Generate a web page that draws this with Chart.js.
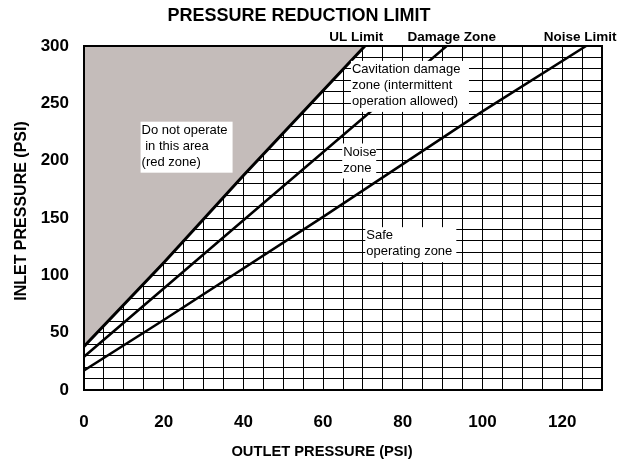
<!DOCTYPE html>
<html>
<head>
<meta charset="utf-8">
<script src="https://cdn.jsdelivr.net/npm/chart.js@4"></script>
<style>
  html, body { margin: 0; padding: 0; background: #fff; }
  #wrap { width: 626px; height: 462px; }
</style>
</head>
<body>
<div id="wrap"><canvas id="chart" width="626" height="462"></canvas></div>
<script>
// outlet (x) / inlet (y) points
const ulOutlet = [0, 20, 40, 70.5];
const ulInlet = [38, 111, 187, 300];
const damageOutlet = [0, 40, 71, 91];
const damageInlet = [29, 148, 240, 300];
const noiseOutlet = [0, 20, 60, 100, 126];
const noiseInlet = [17, 61, 151, 243, 300];

const xTickLabels = [0, 20, 40, 60, 80, 100, 120];
const yTickLabels = [0, 50, 100, 150, 200, 250, 300];

// top labels: [text, outlet value for centre]
const lineLabels = [["UL Limit", 68.3], ["Damage Zone", 92.3], ["Noise Limit", 124.5]];

// zone notes: lines, left outlet, top inlet, box width px
const notes = [
  { lines: ["Do not operate", " in this area", "(red zone)"], x: 14.2, y: 234, w: 92 },
  { lines: ["Cavitation damage", "zone (intermittent", "operation allowed)"], x: 67, y: 287, w: 118 },
  { lines: ["Noise", "zone"], x: 64.8, y: 215, w: 34 },
  { lines: ["Safe", "operating zone"], x: 70.6, y: 142, w: 91 }
];

function pts(xs, ys) {
  return xs.map((x, i) => ({ x: x, y: ys[i] }));
}

const FONT = "'Liberation Sans', Arial, sans-serif";

const decorations = {
  id: "decorations",
  afterDatasetsDraw(chart) {
    const ctx = chart.ctx;
    const xs = chart.scales.x, ys = chart.scales.y;
    const a = chart.chartArea;
    ctx.save();

    // plot frame
    ctx.strokeStyle = "#000";
    ctx.lineWidth = 2;
    ctx.strokeRect(a.left, a.top, a.right - a.left, a.bottom - a.top);

    // zone notes
    ctx.font = "13px " + FONT;
    ctx.textBaseline = "top";
    ctx.textAlign = "left";
    notes.forEach(n => {
      const left = xs.getPixelForValue(n.x);
      const top = ys.getPixelForValue(n.y);
      const h = n.lines.length * 16 + 3;
      ctx.fillStyle = "#fff";
      ctx.fillRect(left, top, n.w, h);
      ctx.fillStyle = "#000";
      n.lines.forEach((t, i) => ctx.fillText(t, left + 1, top + 2 + i * 16));
    });

    // line names above the plot
    ctx.font = "bold 13.5px " + FONT;
    ctx.textAlign = "center";
    ctx.textBaseline = "middle";
    lineLabels.forEach(l => ctx.fillText(l[0], xs.getPixelForValue(l[1]), a.top - 9));

    // title
    ctx.font = "bold 18px " + FONT;
    ctx.fillText("PRESSURE REDUCTION LIMIT", 299, 16);

    // axis titles
    ctx.font = "bold 14.7px " + FONT;
    ctx.fillText("OUTLET PRESSURE (PSI)", 322, 452);
    ctx.font = "bold 16px " + FONT;
    ctx.translate(22, 211);
    ctx.rotate(-Math.PI / 2);
    ctx.fillText("INLET PRESSURE (PSI)", 0, 0);
    ctx.restore();
  }
};

const lineStyle = { borderColor: "#000", borderWidth: 2.5, pointRadius: 0, showLine: true, tension: 0 };

new Chart(document.getElementById("chart").getContext("2d"), {
  type: "scatter",
  data: {
    datasets: [
      Object.assign({ label: "UL Limit", data: pts(ulOutlet, ulInlet), fill: "end", backgroundColor: "#c4bcba" }, lineStyle, { borderWidth: 3 }),
      Object.assign({ label: "Damage Zone", data: pts(damageOutlet, damageInlet), fill: false }, lineStyle),
      Object.assign({ label: "Noise Limit", data: pts(noiseOutlet, noiseInlet), fill: false }, lineStyle)
    ]
  },
  options: {
    responsive: false,
    animation: false,
    layout: { padding: { top: 46, right: 24, left: 0, bottom: 0 } },
    plugins: {
      legend: { display: false },
      title: { display: false },
      tooltip: { enabled: false }
    },
    scales: {
      x: {
        type: "linear",
        min: 0,
        max: 130,
        afterFit: s => { s.height = 72; },
        afterBuildTicks: s => { s.ticks = Array.from({ length: 27 }, (_, i) => ({ value: i * 5 })); },
        grid: { color: "#000", lineWidth: 1, drawTicks: false },
        border: { display: false },
        ticks: {
          padding: 22,
          color: "#000",
          font: { family: FONT, size: 17, weight: "bold" },
          maxRotation: 0,
          autoSkip: false,
          callback: v => xTickLabels.includes(v) ? String(v) : ""
        }
      },
      y: {
        type: "linear",
        min: 0,
        max: 300,
        afterFit: s => { s.width = 84; },
        afterBuildTicks: s => { s.ticks = Array.from({ length: 31 }, (_, i) => ({ value: i * 10 })); },
        grid: { color: "#000", lineWidth: 1, drawTicks: false },
        border: { display: false },
        ticks: {
          padding: 15,
          color: "#000",
          font: { family: FONT, size: 17, weight: "bold" },
          autoSkip: false,
          callback: v => yTickLabels.includes(v) ? String(v) : ""
        }
      }
    }
  },
  plugins: [decorations]
});
</script>
</body>
</html>
